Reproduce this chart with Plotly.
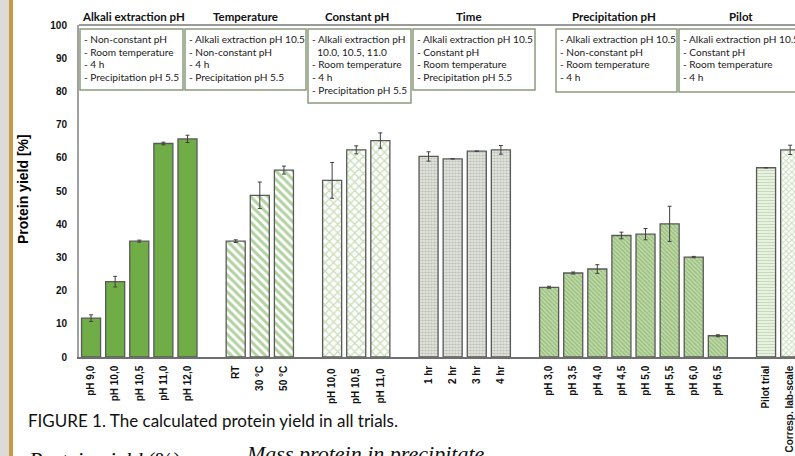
import plotly.graph_objects as go

# ---------------- data ----------------
alkali_labels = ["pH 9,0", "pH 10,0", "pH 10,5", "pH 11,0", "pH 12,0"]
alkali_yield = [11.7, 22.7, 34.9, 64.3, 65.7]
alkali_err = [1.0, 1.6, 0.3, 0.4, 1.1]

temp_labels = ["RT", "30 °C", "50 °C"]
temp_yield = [34.9, 48.7, 56.3]
temp_err = [0.4, 4.0, 1.2]

const_labels = ["pH 10,0 ", "pH 10,5 ", "pH 11,0 "]
const_yield = [53.2, 62.4, 65.2]
const_err = [5.4, 1.2, 2.3]

time_labels = ["1 hr", "2 hr", "3 hr", "4 hr"]
time_yield = [60.4, 59.7, 62.0, 62.4]
time_err = [1.4, None, None, 1.3]

precip_labels = ["pH 3,0", "pH 3,5", "pH 4,0", "pH 4,5", "pH 5,0", "pH 5,5", "pH 6,0", "pH 6,5"]
precip_yield = [21.0, 25.3, 26.5, 36.6, 37.0, 40.1, 30.1, 6.4]
precip_err = [0.3, 0.3, 1.3, 1.0, 1.7, 5.3, 0.2, 0.3]

pilot_labels = ["Pilot trial", "Corresp. lab-scale"]
pilot_yield = [57.0, 62.4]
pilot_err = [None, 1.4]

group_titles = ["Alkali extraction pH", "Temperature", "Constant pH", "Time", "Precipitation pH", "Pilot"]

box_lines = [
    ["- Non-constant pH", "- Room temperature", "- 4 h", "- Precipitation pH 5.5"],
    ["- Alkali extraction pH 10.5", "- Non-constant pH", "- 4 h", "- Precipitation pH 5.5"],
    ["- Alkali extraction pH", "\u00a0\u00a010.0, 10.5, 11.0", "- Room temperature", "- 4 h", "- Precipitation pH 5.5"],
    ["- Alkali extraction pH 10.5", "- Constant pH", "- Room temperature", "- Precipitation pH 5.5"],
    ["- Alkali extraction pH 10.5", "- Non-constant pH", "- Room temperature", "- 4 h"],
    ["- Alkali extraction pH 10.5", "- Constant pH", "- Room temperature", "- 4 h"],
]

# ---------------- layout helpers ----------------
W, H = 795, 456
PL, PR, PT, PB = 79, 795, 25, 357


def px(x):
    return (x - PL) / (PR - PL)


def py(y):
    return (PB - y) / (PB - PT)


GREEN = "#70AD47"
LINE = "#595959"

groups = [
    (alkali_labels, alkali_yield, alkali_err, dict(shape="", fgcolor=GREEN, bgcolor=GREEN), GREEN),
    (temp_labels, temp_yield, temp_err, dict(shape="\\", fgcolor="#66a542", bgcolor="white", size=6, solidity=0.52), "white"),
    (const_labels, const_yield, const_err, dict(shape="x", fgcolor="#96c076", bgcolor="white", size=6, solidity=0.42), "white"),
    (time_labels, time_yield, time_err, dict(shape=".", fgcolor="#939c8a", bgcolor="#eceee9", size=3, solidity=0.6), "white"),
    (precip_labels, precip_yield, precip_err, dict(shape="\\", fgcolor="#72a552", bgcolor="#c4dcae", size=3, solidity=0.55), "#b5d19c"),
]

categories = []
for gi, (labs, *_rest) in enumerate(groups):
    categories += labs
    categories.append("\u2009" * (gi + 1))
categories += pilot_labels

fig = go.Figure()
for labs, vals, errs, pat, base in groups:
    fig.add_trace(go.Bar(
        x=labs, y=vals, width=0.79,
        marker=dict(color=base, pattern=pat, line=dict(color=LINE, width=1.3)),
        error_y=dict(type="data", array=errs, color="#404040", thickness=1, width=2),
        showlegend=False,
    ))

pilot_patterns = [
    dict(shape="-", fgcolor="#98bd80", bgcolor="#f4f8f0", size=3, solidity=0.5),
    dict(shape="x", fgcolor="#98bd80", bgcolor="white", size=4, solidity=0.45),
]
for lab, val, err, pat in zip(pilot_labels, pilot_yield, pilot_err, pilot_patterns):
    fig.add_trace(go.Bar(
        x=[lab], y=[val], width=0.79,
        marker=dict(color="white", pattern=pat, line=dict(color=LINE, width=1.3)),
        error_y=dict(type="data", array=[err], color="#404040", thickness=1, width=2),
        showlegend=False,
    ))

shapes = []
annotations = []

# left page decoration
shapes.append(dict(type="rect", xref="paper", yref="paper", x0=px(0), x1=px(9),
                   y0=py(H), y1=py(0), fillcolor="#dedad6", line=dict(width=0), layer="below"))
shapes.append(dict(type="rect", xref="paper", yref="paper", x0=px(9), x1=px(13),
                   y0=py(H), y1=py(0), fillcolor="#c99a44", line=dict(width=0), layer="below"))
# top border of plot
shapes.append(dict(type="line", xref="paper", yref="paper", x0=0, x1=1, y0=1, y1=1,
                   line=dict(color="#9a9a9a", width=2)))

# condition boxes
box_px = [(80, 29, 183, 90), (185, 29, 306, 90), (308, 29, 411, 103),
          (413, 29, 535, 90), (556, 29, 677, 92), (679, 29, 815, 92)]
for (x0, y0, x1, y1), lines in zip(box_px, box_lines):
    shapes.append(dict(type="rect", xref="paper", yref="paper", x0=px(x0), x1=px(x1),
                       y0=py(y1), y1=py(y0), fillcolor="white",
                       line=dict(color="#8a9a7a", width=1.5)))
    for i, ln in enumerate(lines):
        annotations.append(dict(xref="paper", yref="paper", x=px(x0 + 2), y=py(39 + 12.7 * i),
                                xanchor="left", yanchor="middle", align="left", showarrow=False,
                                text=ln, font=dict(family="Lato", size=10.1, color="#1a1a1a")))

# group titles
title_x = [133, 245, 357, 469, 614, 741]
for t, x in zip(group_titles, title_x):
    annotations.append(dict(xref="paper", yref="paper", x=px(x), y=py(16), xanchor="center",
                            yanchor="middle", showarrow=False, text=t,
                            font=dict(family="Lato", size=11.5, color="#111", weight="bold")))

# y-axis title
annotations.append(dict(xref="paper", yref="paper", x=px(23), y=py(189), textangle=-90,
                        xanchor="center", yanchor="middle", showarrow=False,
                        text="Protein yield [%]",
                        font=dict(family="Liberation Sans", size=14, color="#000", weight="bold")))

# caption text
annotations.append(dict(xref="paper", yref="paper", x=px(26), y=py(420), xanchor="left",
                        yanchor="middle", showarrow=False,
                        text="FIGURE 1. The calculated protein yield in all trials.",
                        font=dict(family="Lato", size=17, color="#111")))
annotations.append(dict(xref="paper", yref="paper", x=px(244), y=py(439), xanchor="left",
                        yanchor="top", showarrow=False, text="<i>Mass protein in precipitate</i>",
                        font=dict(family="Liberation Serif", size=22, color="#111")))
annotations.append(dict(xref="paper", yref="paper", x=px(26), y=py(445), xanchor="left",
                        yanchor="top", showarrow=False, text="<i>Protein yield</i> (%) =",
                        font=dict(family="Liberation Serif", size=22, color="#111")))

fig.update_layout(
    width=W, height=H,
    margin=dict(l=PL, r=W - PR, t=PT, b=H - PB, autoexpand=False),
    paper_bgcolor="white", plot_bgcolor="white",
    barmode="overlay",
    shapes=shapes, annotations=annotations,
    xaxis=dict(type="category", categoryorder="array", categoryarray=categories,
               tickmode="array", tickvals=categories, ticktext=categories,
               range=[-0.5, 29.2], tickangle=-90, showline=True, linecolor="#6f6f6f",
               linewidth=1.5, ticks="", showgrid=False, zeroline=False,
               tickfont=dict(family="Liberation Sans", size=10, color="#111", weight="bold"),
               ticklabelstandoff=3),
    yaxis=dict(range=[0, 100], tickvals=list(range(0, 101, 10)), showline=True,
               linecolor="#a0a0a0", linewidth=2, ticks="", showgrid=False, zeroline=False,
               tickfont=dict(family="Liberation Sans", size=10, color="#111", weight="bold"),
               ticklabelstandoff=8),
    font=dict(family="Liberation Sans"),
)

fig.write_html("out.html", config={"displayModeBar": False},
               post_script="document.body.style.margin='0';document.body.style.overflow='hidden';")
